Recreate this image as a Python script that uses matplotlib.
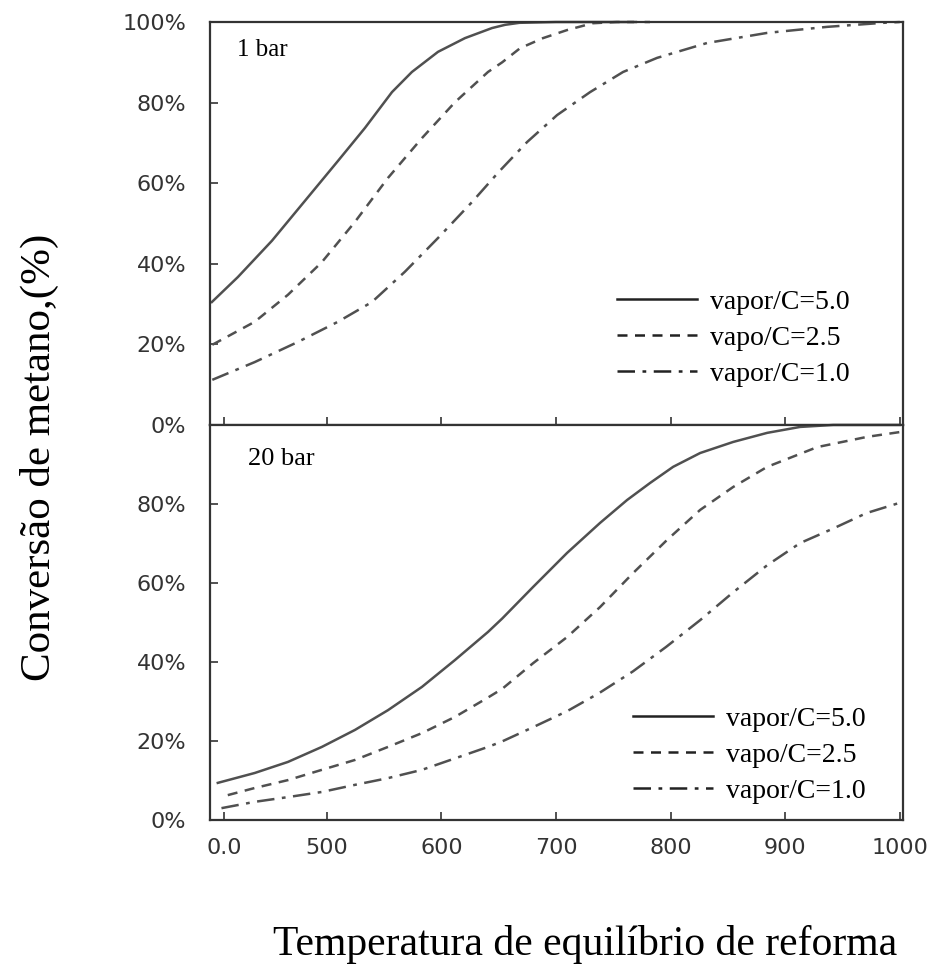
import matplotlib
matplotlib.use('Agg')
import matplotlib.pyplot as plt

# 1 bar panel
t1_s5 = [399.6, 422.3, 452, 480.8, 509.6, 533.2, 556.8, 574.2, 597, 620.5, 644.1, 655.5, 668, 700, 767]
c1_s5 = [30.5, 36.7, 45.7, 55.6, 65.5, 73.7, 82.6, 87.6, 92.6, 96.0, 98.5, 99.3, 99.8, 100, 100]
t1_s25 = [400, 437, 466, 495.6, 524.5, 553.3, 583, 611.8, 640.6, 653, 668.6, 688.6, 709.6, 732, 753, 782]
c1_s25 = [19.9, 25.6, 32.3, 40.4, 50.4, 61.3, 71.2, 80.1, 87.6, 90, 93.5, 96, 98, 99.7, 100, 100]
t1_s1 = [400, 437, 474.7, 509.6, 539.3, 568, 597, 626.6, 650, 674.7, 700.9, 729.7, 758.5,
         788.2, 831.9, 884.3, 936.7, 985.6, 1000]
c1_s1 = [11.2, 15.6, 20.6, 25.6, 30.5, 38, 46.4, 55.3, 62.8, 70.2, 76.9, 82.6, 87.6,
         91.1, 94.8, 97.3, 98.8, 99.8, 100]

# 20 bar panel
t20_s5 = [404.8, 437, 466, 495.6, 524.5, 553.3, 583, 611.8, 640.6, 653, 680, 709.6, 738.4,
          762, 782, 802.2, 825.8, 854.6, 884.3, 913, 942, 1000]
c20_s5 = [9.4, 11.9, 14.7, 18.5, 22.8, 27.8, 33.7, 40.5, 47.6, 51.0, 59, 67.6, 75.2,
          81, 85.3, 89.4, 92.9, 95.7, 98, 99.5, 100, 100]
t20_s25 = [413.5, 437, 466, 495.6, 524.5, 553.3, 583, 611.8, 640.6, 653, 680, 709.6, 738.4,
           767.2, 796.9, 825.8, 854.6, 884.3, 928, 971.7, 1000]
c20_s25 = [6.3, 8.1, 10.1, 12.7, 15.2, 18.5, 22, 26.1, 31.0, 33.2, 39.7, 46.3, 53.9,
           62.5, 70.9, 78.5, 84.3, 89.4, 94.4, 97, 98.2]
t20_s1 = [408, 437, 466, 495.6, 524.5, 553.3, 583, 611.8, 640.6, 653, 680, 710, 738, 767,
          796, 825.8, 854, 884.3, 913, 942, 971, 1000]
c20_s1 = [3, 4.6, 5.8, 7.1, 8.9, 10.6, 12.7, 15.6, 18.5, 19.9, 23.5, 27.6, 32.2, 37.6,
          43.8, 50.6, 57.5, 64.5, 70.1, 73.8, 77.7, 80.3]

labels = ['vapor/C=5.0', 'vapo/C=2.5', 'vapor/C=1.0']
xticks = [410, 500, 600, 700, 800, 900, 1000]
xticklabels = ['0.0', '500', '600', '700', '800', '900', '1000']
yticks_top = [0, 20, 40, 60, 80, 100]
yticks_bot = [0, 20, 40, 60, 80]

serif = 'Liberation Serif'
lc = '#505050'
styles = ['-', (0, (4, 3)), (0, (7, 3, 1.5, 3))]

fig = plt.figure(figsize=(9.28, 9.74), dpi=100)
ax1 = fig.add_axes([0.2263, 0.5637, 0.747, 0.4137])
ax2 = fig.add_axes([0.2263, 0.1581, 0.747, 0.4056])

series1 = [(t1_s5, c1_s5), (t1_s25, c1_s25), (t1_s1, c1_s1)]
series2 = [(t20_s5, c20_s5), (t20_s25, c20_s25), (t20_s1, c20_s1)]

for ax, series, yt in [(ax1, series1, yticks_top), (ax2, series2, yticks_bot)]:
    for (t, c), ls, lab in zip(series, styles, labels):
        ax.plot(t, c, color=lc, lw=1.8, linestyle=ls, label=lab, clip_on=False)
    ax.set_xlim(398, 1003)
    ax.set_ylim(0, 100)
    ax.set_yticks(yt)
    ax.set_yticklabels([f'{v}%' for v in yt], fontsize=16, color='#333333',
                       family='DejaVu Sans')
    ax.set_xticks(xticks)
    ax.tick_params(direction='in', length=6, width=1.2, color='#333333')
    ax.tick_params(axis='y', pad=17)
    for sp in ax.spines.values():
        sp.set_linewidth(1.6)
        sp.set_color('#333333')

ax1.set_xticklabels([])
ax2.set_xticklabels(xticklabels, fontsize=16, color='#333333', family='DejaVu Sans')
ax2.tick_params(axis='x', pad=13)

ax1.text(0.039, 0.93, '1 bar', transform=ax1.transAxes, family=serif, fontsize=18,
         va='center', ha='left')
ax2.text(0.055, 0.915, '20 bar', transform=ax2.transAxes, family=serif, fontsize=19,
         va='center', ha='left')

leg_kw = dict(frameon=False, prop={'family': serif, 'size': 20}, handlelength=2.9,
              handletextpad=0.45, labelspacing=0.38, borderpad=0, borderaxespad=0,
              loc='lower left')
l1 = ax1.legend(bbox_to_anchor=(0.587, 0.095), **leg_kw)
l2 = ax2.legend(bbox_to_anchor=(0.610, 0.04), **leg_kw)
for leg in (l1, l2):
    for line in leg.get_lines():
        line.set_color('#222222')

fig.text(0.043, 0.530, 'Conversão de metano,(%)', rotation=90, family=serif,
         fontsize=31, ha='center', va='center')
fig.text(0.630, 0.030, 'Temperatura de equilíbrio de reforma', family=serif,
         fontsize=30, ha='center', va='center')

fig.savefig('out.png', dpi=100)
